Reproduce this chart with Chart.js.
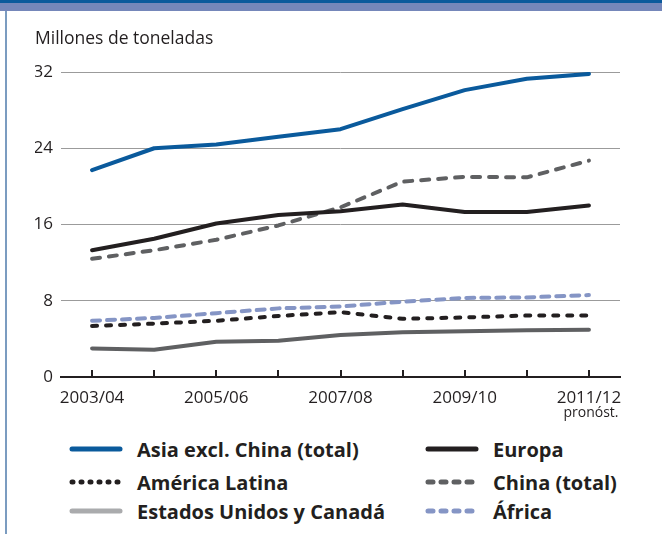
<!DOCTYPE html>
<html>
<head>
<meta charset="utf-8">
<script src="https://cdn.jsdelivr.net/npm/chart.js@4"></script>
<style>
  body { margin: 0; background: #fff; width: 662px; height: 534px; overflow: hidden; position: relative; font-family: "Open Sans", sans-serif; }
  #bar1 { position: absolute; left: 0; top: 0; width: 662px; height: 3px; background: #0a5a9c; }
  #bar2 { position: absolute; left: 0; top: 3px; width: 662px; height: 8px; background: #7587ba; }
  #side { position: absolute; left: 5px; top: 11px; width: 2px; height: 523px; background: #7b9cc0; }
  .item { position: absolute; height: 24px; display: flex; align-items: center; }
  .item svg { margin-right: 14px; }
  .item span { font-weight: bold; font-size: 20px; color: #231f20; white-space: nowrap; }
</style>
</head>
<body>
<div id="bar1"></div>
<div id="bar2"></div>
<div id="side"></div>
<canvas id="chart" width="662" height="425" style="position:absolute;left:0;top:0"></canvas>
<div id="legend"></div>
<script>
const categories = ['2003/04', '2004/05', '2005/06', '2006/07', '2007/08', '2008/09', '2009/10', '2010/11', '2011/12'];
const asia = [21.7, 24.0, 24.4, 25.2, 26.0, 28.1, 30.1, 31.3, 31.8];
const europa = [13.3, 14.5, 16.1, 17.0, 17.4, 18.1, 17.3, 17.3, 18.0];
const latam = [5.35, 5.6, 5.9, 6.4, 6.8, 6.1, 6.25, 6.45, 6.45];
const china = [12.4, 13.3, 14.4, 15.9, 17.8, 20.5, 21.0, 20.95, 22.7];
const eeuu = [3.0, 2.85, 3.7, 3.8, 4.4, 4.7, 4.8, 4.9, 4.95];
const africa = [5.9, 6.2, 6.7, 7.2, 7.4, 7.9, 8.3, 8.35, 8.6];

// legend entries (the US/Canada swatch is lighter than its line in the chart)
const legendItems = [
    {label: 'Asia excl. China (total)', color: '#0a5a9c', dash: null, col: 0, row: 0},
    {label: 'Europa', color: '#231f20', dash: null, col: 1, row: 0},
    {label: 'América Latina', color: '#231f20', dash: '1 8', col: 0, row: 1},
    {label: 'China (total)', color: '#5f6062', dash: '5 8', col: 1, row: 1},
    {label: 'Estados Unidos y Canadá', color: '#aaabad', dash: null, col: 0, row: 2},
    {label: 'África', color: '#8595c5', dash: '5 8', col: 1, row: 2}
];

const rowY = [449, 482, 511];
const colX = [69, 425];
let legendHtml = '';
legendItems.forEach(it => {
    const dash = it.dash ? ` stroke-dasharray="${it.dash}"` : '';
    legendHtml += `<div class="item" style="left:${colX[it.col]}px;top:${rowY[it.row] - 12}px">` +
        `<svg width="54" height="10"><line x1="3" y1="5" x2="51" y2="5" stroke="${it.color}" stroke-width="5" stroke-linecap="round"${dash}/></svg>` +
        `<span>${it.label}</span></div>`;
});
document.getElementById('legend').innerHTML = legendHtml;

function line(data, color, dash) {
    return {
        data: data,
        borderColor: color,
        backgroundColor: color,
        borderWidth: 4,
        borderDash: dash || [],
        borderCapStyle: 'round',
        borderJoinStyle: 'round',
        pointRadius: 0,
        tension: 0,
        fill: false
    };
}

const axisExtras = {
    id: 'axisExtras',
    afterDraw(chart) {
        const ctx = chart.ctx;
        const x = chart.scales.x;
        const bottom = chart.chartArea.bottom;
        ctx.save();
        ctx.strokeStyle = '#231f20';
        ctx.lineWidth = 2;
        categories.forEach((c, i) => {
            const px = Math.round(x.getPixelForValue(i));
            ctx.beginPath();
            ctx.moveTo(px, bottom - 7);
            ctx.lineTo(px, bottom);
            ctx.stroke();
        });
        ctx.fillStyle = '#231f20';
        ctx.font = '14px "Open Sans"';
        ctx.textAlign = 'center';
        ctx.textBaseline = 'middle';
        ctx.fillText('pronóst.', x.getPixelForValue(categories.length - 1) + 2, 413);
        ctx.restore();
    }
};

let ctx = document.getElementById('chart').getContext('2d');

let myChart = new Chart(ctx, {
    type: 'line',
    data: {
        labels: categories,
        datasets: [
            line(asia, '#0a5a9c'),
            line(europa, '#231f20'),
            line(china, '#5f6062', [8, 9]),
            line(africa, '#8595c5', [8, 7]),
            line(latam, '#231f20', [5, 9]),
            line(eeuu, '#5f6062')
        ]
    },
    plugins: [axisExtras],
    options: {
        responsive: false,
        animation: false,
        devicePixelRatio: 1,
        layout: {
            padding: {left: 35, right: 42, top: 29, bottom: 0}
        },
        plugins: {
            legend: {display: false},
            tooltip: {enabled: false},
            title: {
                display: true,
                text: 'Millones de toneladas',
                align: 'start',
                color: '#231f20',
                font: {family: '"Open Sans"', size: 17.5, weight: 'normal', lineHeight: 1.2},
                padding: {top: 0, bottom: 22}
            }
        },
        scales: {
            x: {
                offset: true,
                grid: {display: false},
                border: {display: true, color: '#231f20', width: 2},
                ticks: {
                    autoSkip: false,
                    maxRotation: 0,
                    padding: 3,
                    color: '#231f20',
                    font: {family: '"Open Sans"', size: 17},
                    callback: (v, i) => i % 2 === 0 ? categories[i] : ''
                },
                afterFit: (s) => { s.height = 48; }
            },
            y: {
                min: 0,
                max: 32,
                border: {display: false},
                grid: {color: '#9b9b9b', lineWidth: 1, drawTicks: false},
                ticks: {
                    stepSize: 8,
                    padding: 8,
                    color: '#231f20',
                    font: {family: '"Open Sans"', size: 17}
                },
                afterFit: (s) => { s.width = 26; }
            }
        }
    }
});
</script>
</body>
</html>
